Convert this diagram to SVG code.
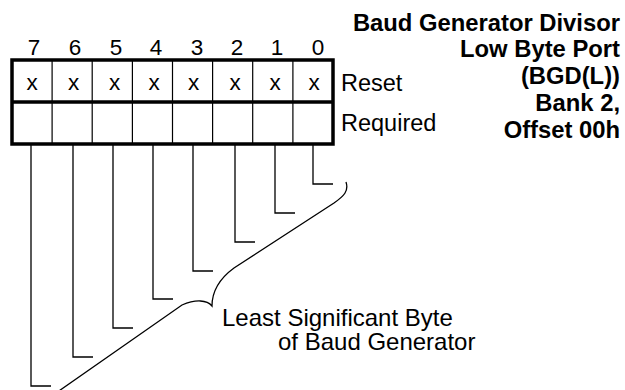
<svg xmlns="http://www.w3.org/2000/svg" width="625" height="390" viewBox="0 0 625 390">
<style>
text{font-family:"Liberation Sans",Arial,sans-serif;fill:#000}
.t{font-size:23.5px}
.n{font-size:22.5px;text-anchor:middle}
.b{font-size:23.8px;font-weight:bold;text-anchor:end}
.lab{font-size:24px}
.thick{fill:none;stroke:#000;stroke-width:3.5}
.thin{fill:none;stroke:#000;stroke-width:1.2}
.ln{fill:none;stroke:#000;stroke-width:1.3}
</style>
<rect width="625" height="390" fill="#fff"/>
<g id="title">
<text class="b" x="620" y="31">Baud Generator Divisor</text>
<text class="b" x="620" y="57">Low Byte Port</text>
<text class="b" x="620" y="84">(BGD(L))</text>
<text class="b" x="620" y="111">Bank 2,</text>
<text class="b" x="620" y="138">Offset 00h</text>
</g>
<g id="register">
<g id="bitnums">
<text class="n" x="34" y="55">7</text>
<text class="n" x="75" y="55">6</text>
<text class="n" x="116" y="55">5</text>
<text class="n" x="156" y="55">4</text>
<text class="n" x="197" y="55">3</text>
<text class="n" x="237" y="55">2</text>
<text class="n" x="277" y="55">1</text>
<text class="n" x="318" y="55">0</text>
</g>
<path class="thin" d="M52.1,60V144M92.2,60V144M132.4,60V144M172.5,60V144M212.6,60V144M252.7,60V144M292.9,60V144"/>
<rect class="thick" x="12" y="60" width="321" height="84"/>
<path class="thick" d="M12,102H333"/>
<g id="reset">
<text class="n" x="32" y="90">x</text>
<text class="n" x="73.5" y="90">x</text>
<text class="n" x="114.5" y="90">x</text>
<text class="n" x="154" y="90">x</text>
<text class="n" x="193.5" y="90">x</text>
<text class="n" x="235" y="90">x</text>
<text class="n" x="275" y="90">x</text>
<text class="n" x="314" y="90">x</text>
<text class="t" x="341" y="91">Reset</text>
</g>
<text class="t" x="341" y="131">Required</text>
</g>
<g id="connectors">
<path class="ln" d="M313,145V184H333"/>
<path class="ln" d="M275,145V213H295"/>
<path class="ln" d="M235,145V242H255"/>
<path class="ln" d="M193,145V271H213"/>
<path class="ln" d="M153,145V299H173"/>
<path class="ln" d="M113,145V328H133"/>
<path class="ln" d="M73,145V357H93"/>
<path class="ln" d="M31,145V386H51"/>
</g>
<g id="brace">
<path class="ln" d="M346,182C349,191 344,196 334,203L234,268C219,279 212,291 212,306C207,300 196,299 182,305L56,393"/>
</g>
<g id="label">
<text class="lab" x="222" y="326">Least Significant Byte</text>
<text class="lab" x="278" y="350">of Baud Generator</text>
</g>
</svg>
